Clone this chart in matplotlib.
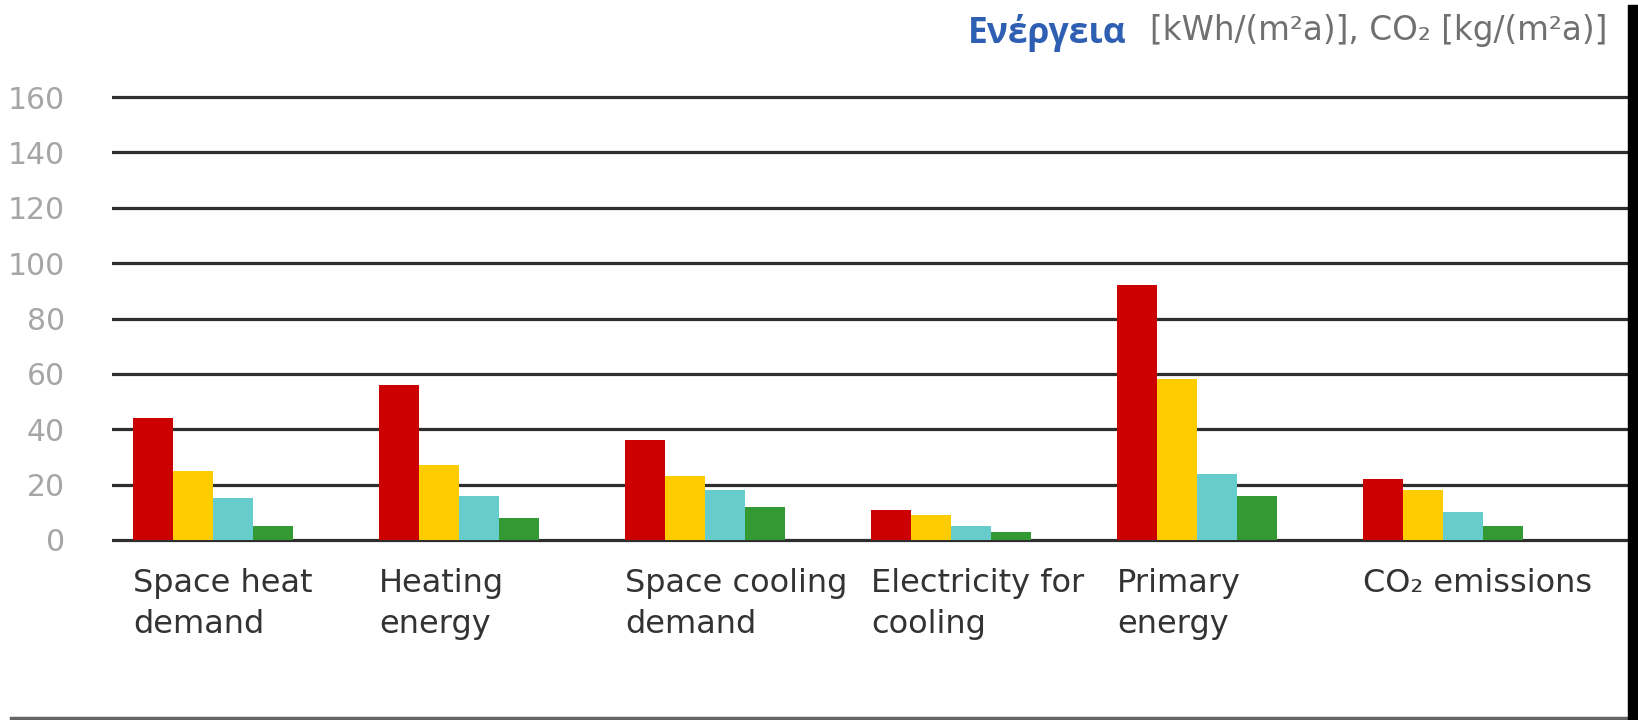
import matplotlib
matplotlib.use("Agg")
import matplotlib.pyplot as plt
import numpy as np
from matplotlib.transforms import blended_transform_factory
from matplotlib.lines import Line2D

# ---- data ----
categories = ["Space heat\ndemand", "Heating\nenergy", "Space cooling\ndemand",
              "Electricity for\ncooling", "Primary\nenergy", "CO\u2082 emissions"]
series_red = [44, 56, 36, 11, 92, 22]
series_yellow = [25, 27, 23, 9, 58, 18]
series_cyan = [15, 16, 18, 5, 24, 10]
series_green = [5, 8, 12, 3, 16, 5]
yticks = [0, 20, 40, 60, 80, 100, 120, 140, 160]
ytick_labels = ["0", "20", "40", "60", "80", "100", "120", "140", "160"]
title_word = "Ενέργεια"
unit_text = "[kWh/(m\u00b2a)], CO\u2082 [kg/(m\u00b2a)]"

colors = ["#cc0000", "#ffcc00", "#66cccc", "#339933"]
series = [series_red, series_yellow, series_cyan, series_green]

W, H = 1638, 720
fig = plt.figure(figsize=(W / 100, H / 100), dpi=100)
fig.patch.set_facecolor("white")

# axes placement (pixels)
ax_left, ax_right = 112, 1628
ax_top, ax_bot = 91.5, 545.5
ax = fig.add_axes([ax_left / W, 1 - ax_bot / H, (ax_right - ax_left) / W, (ax_bot - ax_top) / H])

x = np.arange(len(categories))
bw = 0.1626
offsets = np.array([-1.5, -0.5, 0.5, 1.5]) * bw
for vals, col, off in zip(series, colors, offsets):
    ax.bar(x + off, vals, width=bw, color=col, zorder=3, linewidth=0)

ax.set_xlim(-0.4106, 5.752)
ax.set_ylim(-2, 162)
ax.set_yticks(yticks)
ax.set_yticklabels(ytick_labels)
ax.tick_params(axis="y", length=0, pad=34, labelsize=21.5, labelcolor="#a6a6a6")
ax.set_xticks([])
for s in ax.spines.values():
    s.set_visible(False)
ax.set_axisbelow(True)
ax.yaxis.grid(True, color="#2e2e2e", linewidth=2.3)

# category labels (two lines, left aligned at first bar)
tr = blended_transform_factory(ax.transData, fig.transFigure)
baselines = [592, 633]
for i, lab in enumerate(categories):
    for j, line in enumerate(lab.split("\n")):
        ax.text(x[i] - 2 * bw, 1 - baselines[j] / H, line, transform=tr,
                ha="left", va="baseline", fontsize=23, color="#333333",
                family="DejaVu Sans")

# title
fig.text(968 / W, 1 - 43 / H, title_word, ha="left", va="baseline",
         fontsize=25.5, fontweight="bold", color="#2f5fb3", family="Open Sans")
fig.text(1150 / W, 1 - 40 / H, unit_text, ha="left", va="baseline",
         fontsize=23.5, color="#707070", family="DejaVu Sans")

# frame decorations
fig.add_artist(Line2D([11 / W, 1630 / W], [1 - 718 / H, 1 - 718 / H],
                      transform=fig.transFigure, color="#666666", linewidth=2.5))
fig.add_artist(Line2D([1633 / W, 1633 / W], [1 - 10 / H, 0],
                      transform=fig.transFigure, color="#000000", linewidth=7.5))

fig.savefig("out.png", dpi=100, facecolor="white")
